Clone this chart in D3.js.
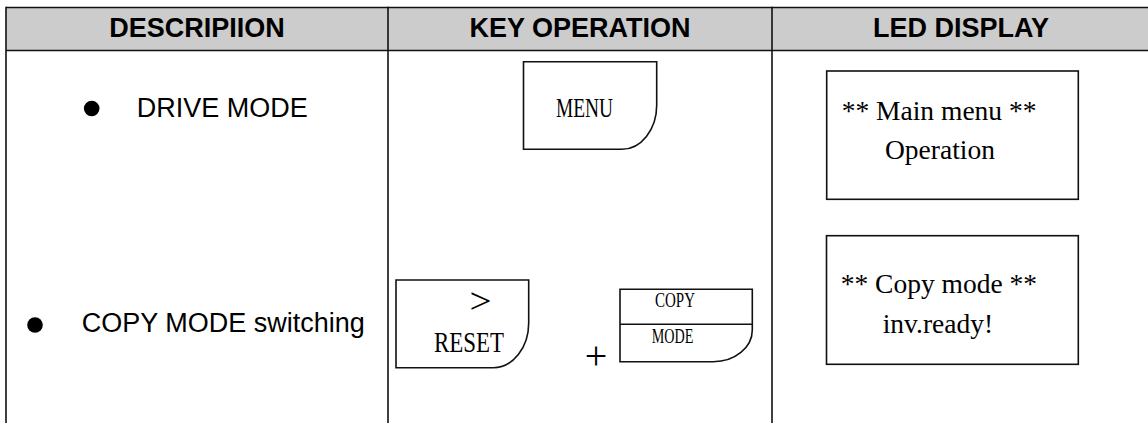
<!DOCTYPE html>
<html>
<head>
<meta charset="utf-8">
<script src="https://cdn.jsdelivr.net/npm/d3@7/dist/d3.min.js"></script>
<style>
  html, body { margin: 0; padding: 0; background: #fff; }
  svg { display: block; }
</style>
</head>
<body>
<svg id="chart" width="1148" height="423"></svg>
<script>
// ---- data ----
const headers = ["DESCRIPIION", "KEY OPERATION", "LED DISPLAY"];
const descriptions = ["DRIVE MODE", "COPY MODE switching"];
const keyRow1 = ["MENU"];
const keyRow2Left = [">", "RESET"];
const keyRow2Right = ["COPY", "MODE"];
const keyJoin = ["+"];
const displayRow1 = ["** Main menu **", "Operation"];
const displayRow2 = ["** Copy mode **", "inv.ready!"];

// ---- layout ----
const svg = d3.select("#chart");
const W = 1148, H = 423;
const colEdges = [6, 388, 772, 1150];
const x = d3.scaleOrdinal().domain(headers).range(colEdges.slice(0, 3));
const xEnd = d3.scaleOrdinal().domain(headers).range(colEdges.slice(1));
const headTop = 7.5, headBottom = 50.5;
const sans = "'Liberation Sans', Arial, sans-serif";
const serif = "'Liberation Serif', 'Times New Roman', serif";
const ink = "#111";

// header background
svg.append("rect").attr("x", colEdges[0]).attr("y", headTop)
  .attr("width", colEdges[3] - colEdges[0]).attr("height", headBottom - headTop)
  .attr("fill", "#cccccc");

// horizontal rules
[headTop, headBottom].forEach(y => {
  svg.append("line").attr("x1", colEdges[0]).attr("x2", colEdges[3])
    .attr("y1", y).attr("y2", y).attr("stroke", ink).attr("stroke-width", 1.7);
});
// vertical rules
colEdges.forEach(cx => {
  svg.append("line").attr("x1", cx).attr("x2", cx)
    .attr("y1", headTop - 0.8).attr("y2", H).attr("stroke", ink).attr("stroke-width", 1.6);
});

// header texts
svg.selectAll("text.head").data(headers).enter().append("text")
  .attr("class", "head")
  .attr("x", d => (x(d) + xEnd(d)) / 2)
  .attr("y", 37.3)
  .attr("text-anchor", "middle")
  .attr("font-family", sans).attr("font-weight", "bold").attr("font-size", 27)
  .attr("fill", "#000")
  .text(d => d);

// descriptions with bullets
const descPos = [{bx: 91.7, by: 108.5, tx: 136.7, ty: 117.3}, {bx: 35, by: 325, tx: 81.7, ty: 332.3}];
const descG = svg.selectAll("g.desc").data(descriptions).enter().append("g").attr("class", "desc");
descG.append("circle")
  .attr("cx", (d, i) => descPos[i].bx).attr("cy", (d, i) => descPos[i].by)
  .attr("r", 7.8).attr("fill", "#000");
descG.append("text")
  .attr("x", (d, i) => descPos[i].tx).attr("y", (d, i) => descPos[i].ty)
  .attr("font-family", sans).attr("font-size", 27).attr("fill", "#000")
  .text(d => d);

// key shape: rectangle with rounded (elliptic) bottom-right corner
function keyPath(x0, y0, x1, y1, rx, ry) {
  const p = d3.path();
  p.moveTo(x0, y0);
  p.lineTo(x1, y0);
  p.lineTo(x1, y1 - ry);
  return p.toString() + ` A ${rx} ${ry} 0 0 1 ${x1 - rx} ${y1} L ${x0} ${y1} Z`;
}
function drawKey(k) {
  svg.append("path").attr("d", keyPath(k.x0, k.y0, k.x1, k.y1, k.rx, k.ry))
    .attr("fill", "none").attr("stroke", ink).attr("stroke-width", 1.6);
}
function keyText(label, cx, y, size, len) {
  svg.append("text").attr("x", cx).attr("y", y)
    .attr("text-anchor", "middle")
    .attr("font-family", serif).attr("font-size", size).attr("fill", "#000")
    .attr("textLength", len).attr("lengthAdjust", "spacingAndGlyphs")
    .text(label);
}

// MENU key
drawKey({x0: 523.5, y0: 61.7, x1: 656.7, y1: 149.3, rx: 35, ry: 44});
keyText(keyRow1[0], 584.5, 116.7, 27.5, 57);

// > RESET key
drawKey({x0: 396, y0: 280, x1: 528.7, y1: 367.7, rx: 35.4, ry: 44.7});
keyText(keyRow2Left[0], 480.5, 313, 36, 22);
keyText(keyRow2Left[1], 469, 351.7, 30, 70);

// plus
svg.append("text").attr("x", 596).attr("y", 369)
  .attr("text-anchor", "middle").attr("font-family", serif).attr("font-size", 40)
  .attr("font-weight", 300).attr("fill", "#000").text(keyJoin[0]);

// COPY / MODE key
const ck = {x0: 620, y0: 289.3, x1: 752.3, y1: 361.7, rx: 39, ry: 31.7};
drawKey(ck);
svg.append("line").attr("x1", ck.x0).attr("x2", ck.x1).attr("y1", 324.3).attr("y2", 324.3)
  .attr("stroke", ink).attr("stroke-width", 1.6);
keyText(keyRow2Right[0], 675, 306.7, 20.5, 40);
keyText(keyRow2Right[1], 672.5, 342.7, 20.5, 41.6);

// LED displays
const displays = [
  {box: [826.7, 71, 1078.3, 199.3], lines: displayRow1, pos: [[841.7, 120], [885, 158.5]]},
  {box: [826.5, 235.7, 1078.3, 364.3], lines: displayRow2, pos: [[840.7, 293.3], [882.7, 333.3]]}
];
displays.forEach(dsp => {
  const [x0, y0, x1, y1] = dsp.box;
  svg.append("rect").attr("x", x0).attr("y", y0).attr("width", x1 - x0).attr("height", y1 - y0)
    .attr("fill", "none").attr("stroke", ink).attr("stroke-width", 1.6);
  svg.selectAll(null).data(dsp.lines).enter().append("text")
    .attr("x", (d, i) => dsp.pos[i][0]).attr("y", (d, i) => dsp.pos[i][1])
    .attr("font-family", serif).attr("font-size", 27.5).attr("fill", "#000")
    .text(d => d);
});
</script>
</body>
</html>
